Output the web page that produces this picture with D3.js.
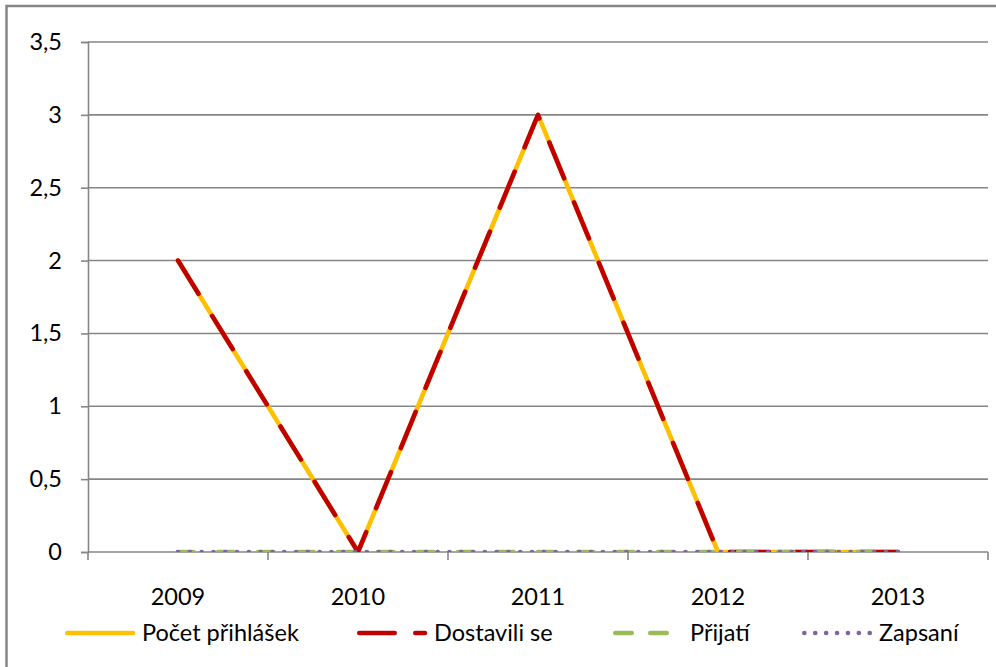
<!DOCTYPE html>
<html>
<head>
<meta charset="utf-8">
<script src="https://cdn.jsdelivr.net/npm/d3@7"></script>
<style>
  html, body { margin: 0; padding: 0; background: #fff; }
  svg { display: block; font-family: Lato, "Open Sans", sans-serif; }
</style>
</head>
<body>
<svg id="chart" width="996" height="667"></svg>
<script>
// data
var years      = ["2009", "2010", "2011", "2012", "2013"];
var prihlasek  = [2, 0, 3, 0, 0];
var dostavili  = [2, 0, 3, 0, 0];
var prijati    = [0, 0, 0, 0, 0];
var zapsani    = [0, 0, 0, 0, 0];
var seriesNames = ["Počet přihlášek", "Dostavili se", "Přijatí", "Zapsaní"];
var yTicks     = [0, 0.5, 1, 1.5, 2, 2.5, 3, 3.5];

// styles, one per series (same order as seriesNames)
var styles = [
    { color: "#FFC000", dash: null,        legendDash: null },
    { color: "#C00000", dash: "39,26",     legendDash: "35.4,20.6" },
    { color: "#9BBB59", dash: "15.5,24.5", legendDash: "16.4,18.6" },
    { color: "#8064A2", dash: "0.1,11.7",  legendDash: "0.1,10.8" }
];
var allValues = [prihlasek, dostavili, prijati, zapsani];

var svg = d3.select("#chart");
var plotLeft = 88, plotRight = 988, plotTop = 42, plotBottom = 552;
var grey = "#868686";
var fontSize = 23.5;

// outer border (chart area)
svg.append("rect")
    .attr("x", 6.5).attr("y", 6)
    .attr("width", 1000).attr("height", 700)
    .attr("fill", "#fff")
    .attr("stroke", grey).attr("stroke-width", 2.5);

var x = d3.scaleBand().domain(years).range([plotLeft, plotRight]).paddingInner(0).paddingOuter(0);
var y = d3.scaleLinear().domain([0, 3.5]).range([plotBottom, plotTop]);

// gridlines
svg.append("g").selectAll("line")
    .data(yTicks.filter(function(d) { return d > 0; }))
    .join("line")
    .attr("x1", plotLeft).attr("x2", plotRight)
    .attr("y1", function(d) { return y(d); })
    .attr("y2", function(d) { return y(d); })
    .attr("stroke", grey).attr("stroke-width", 1.6);

// y axis
var yAxis = d3.axisLeft(y)
    .tickValues(yTicks)
    .tickSize(7)
    .tickPadding(19)
    .tickFormat(function(d) { return String(d).replace(".", ","); });
var gy = svg.append("g").attr("transform", "translate(" + plotLeft + ",0)").call(yAxis);
gy.attr("font-family", null).attr("font-size", fontSize);
gy.select(".domain").attr("stroke", grey).attr("stroke-width", 1.6);
gy.selectAll(".tick line").attr("stroke", grey).attr("stroke-width", 1.6);
gy.selectAll("text").attr("fill", "#000");

// x axis (labels centered, ticks between categories)
var xAxis = d3.axisBottom(x).tickSize(0).tickPadding(36);
var gx = svg.append("g").attr("transform", "translate(0," + plotBottom + ")").call(xAxis);
gx.attr("font-family", null).attr("font-size", fontSize);
gx.select(".domain").remove();
gx.selectAll("text").attr("fill", "#000");
var edges = years.map(function(c) { return x(c); }).concat([x(years[years.length - 1]) + x.bandwidth()]);
gx.append("line").attr("x1", plotLeft).attr("x2", plotRight).attr("y1", 0).attr("y2", 0)
    .attr("stroke", grey).attr("stroke-width", 1.6);
gx.selectAll(".edge").data(edges).join("line").attr("class", "edge")
    .attr("x1", function(d) { return d; }).attr("x2", function(d) { return d; })
    .attr("y1", 0).attr("y2", 8)
    .attr("stroke", grey).attr("stroke-width", 1.6);

// plot clip (lines at zero are cut by the plot edge)
svg.append("clipPath").attr("id", "plotclip")
  .append("rect").attr("x", plotLeft).attr("y", plotTop - 10)
  .attr("width", plotRight - plotLeft + 10).attr("height", plotBottom - plotTop + 10);

// series lines
var line = d3.line()
    .x(function(d, i) { return x(years[i]) + x.bandwidth() / 2; })
    .y(function(d) { return y(d); });

var gLines = svg.append("g").attr("clip-path", "url(#plotclip)");
allValues.forEach(function(vals, k) {
    gLines.append("path")
        .attr("d", line(vals))
        .attr("fill", "none")
        .attr("stroke", styles[k].color)
        .attr("stroke-width", 4.6)
        .attr("stroke-linecap", "round")
        .attr("stroke-linejoin", "round")
        .attr("stroke-dasharray", styles[k].dash);
});

// legend
var legendX = [65, 357, 613, 802];
var legendY = 633;
var lg = svg.append("g");
seriesNames.forEach(function(name, k) {
    var g = lg.append("g").attr("transform", "translate(" + legendX[k] + "," + legendY + ")");
    g.append("line")
        .attr("x1", 2.3).attr("x2", 68).attr("y1", 0).attr("y2", 0)
        .attr("stroke", styles[k].color)
        .attr("stroke-width", 4.6)
        .attr("stroke-linecap", "round")
        .attr("stroke-dasharray", styles[k].legendDash);
    g.append("text")
        .attr("x", 77).attr("y", 8)
        .attr("font-size", fontSize)
        .attr("fill", "#000")
        .text(name);
});
</script>
</body>
</html>
